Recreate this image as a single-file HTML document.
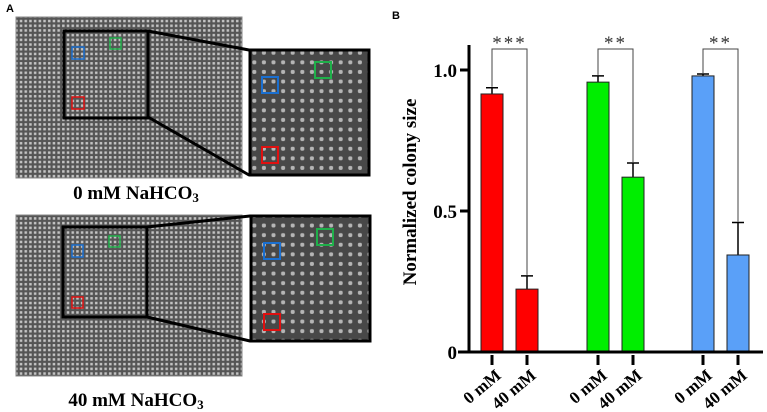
<!DOCTYPE html>
<html><head><meta charset="utf-8"><style>
html,body{margin:0;padding:0;background:#fff;width:767px;height:412px;overflow:hidden}
svg text{font-family:"Liberation Serif",serif}
</style></head><body>
<svg id="fig" width="767" height="412" viewBox="0 0 767 412" xmlns="http://www.w3.org/2000/svg">
<defs>
<pattern id="dots" width="4.7" height="4.7" patternUnits="userSpaceOnUse"><rect width="4.7" height="4.7" fill="#555"/><rect x="1" y="1" width="2.5" height="2.5" fill="#c4c4c4"/></pattern>
<pattern id="dotsBig" width="9.6" height="9.6" patternUnits="userSpaceOnUse"><rect width="9.6" height="9.6" fill="#484848"/><rect x="2.7" y="2.7" width="4" height="4" rx="1.5" fill="#b5b5b5"/></pattern>
</defs>
<text x="6" y="12" font-weight="bold" font-size="11" style="font-family:'Liberation Sans',sans-serif">A</text>
<text x="392" y="19" font-weight="bold" font-size="11" style="font-family:'Liberation Sans',sans-serif">B</text>

<g>
<rect x="16" y="17" width="226" height="161" fill="url(#dots)" stroke="#888" stroke-width="1"/>
<line x1="148" y1="31" x2="249" y2="50" stroke="#000" stroke-width="3"/>
<line x1="148" y1="117" x2="249" y2="175" stroke="#000" stroke-width="3"/>
<rect x="64" y="31" width="84" height="87" fill="none" stroke="#000" stroke-width="3"/>
<rect x="72" y="47" width="12" height="12" fill="none" stroke="#1a6fd0" stroke-width="1.5"/>
<rect x="110" y="38" width="11" height="11" fill="none" stroke="#1fb04a" stroke-width="1.5"/>
<rect x="72" y="97" width="12" height="12" fill="none" stroke="#e01010" stroke-width="1.5"/>
<rect x="250" y="50" width="119" height="125" fill="url(#dotsBig)" stroke="#000" stroke-width="3"/>
<rect x="262" y="77" width="16" height="16" fill="none" stroke="#1a6fd0" stroke-width="2"/>
<rect x="315" y="62" width="16" height="16" fill="none" stroke="#1fb04a" stroke-width="2"/>
<rect x="262" y="147" width="16" height="16" fill="none" stroke="#e01010" stroke-width="2"/>
</g>
<text x="136" y="199" text-anchor="middle" font-weight="bold" font-size="19">0 mM NaHCO<tspan font-size="13" dy="3">3</tspan></text>

<g>
<rect x="16" y="215" width="226" height="161" fill="url(#dots)" stroke="#888" stroke-width="1"/>
<line x1="147" y1="227" x2="250" y2="216" stroke="#000" stroke-width="3"/>
<line x1="147" y1="317" x2="250" y2="341" stroke="#000" stroke-width="3"/>
<rect x="63" y="227" width="84" height="90" fill="none" stroke="#000" stroke-width="3"/>
<rect x="72" y="245" width="11" height="12" fill="none" stroke="#1a6fd0" stroke-width="1.5"/>
<rect x="109" y="236" width="11" height="11" fill="none" stroke="#1fb04a" stroke-width="1.5"/>
<rect x="72" y="297" width="11" height="11" fill="none" stroke="#e01010" stroke-width="1.5"/>
<rect x="251" y="216" width="119" height="125" fill="url(#dotsBig)" stroke="#000" stroke-width="3"/>
<rect x="264" y="243" width="16" height="16" fill="none" stroke="#1a6fd0" stroke-width="2"/>
<rect x="317" y="229" width="16" height="16" fill="none" stroke="#1fb04a" stroke-width="2"/>
<rect x="264" y="314" width="16" height="16" fill="none" stroke="#e01010" stroke-width="2"/>
</g>
<text x="136" y="406" text-anchor="middle" font-weight="bold" font-size="19">40 mM NaHCO<tspan font-size="13" dy="3">3</tspan></text>

<g id="chart"></g>
</svg>
<script>
const categories = ["0 mM","40 mM","0 mM","40 mM","0 mM","40 mM"];
const values = [0.915, 0.223, 0.957, 0.62, 0.979, 0.344];
const errors = [0.022, 0.047, 0.022, 0.05, 0.007, 0.115];
const colors = ["#ff0000","#ff0000","#00ee00","#00ee00","#5aa0f8","#5aa0f8"];
const yTicks = [0, 0.5, 1.0];
const yTickLabels = ["0","0.5","1.0"];
const sigLabels = ["***","**","**"];

const NS = "http://www.w3.org/2000/svg";
const g = document.getElementById("chart");
const y0 = 352, yScale = 282;
function Y(v){ return y0 - v*yScale; }
const barW = 22;
const centers = [492, 527, 598, 633, 703, 738];
function X(i){ return centers[i]; }
function mk(tag, attrs){ const e=document.createElementNS(NS,tag); for(const k in attrs) e.setAttribute(k,attrs[k]); g.appendChild(e); return e; }

let yl = mk("text",{x:0,y:0,"text-anchor":"middle","font-size":"19","font-weight":"bold",transform:"translate(416,192) rotate(-90)"});
yl.textContent = "Normalized colony size";



values.forEach((v,i)=>{
  const x=X(i);
  const top = Y(v+errors[i]);
  let eb = mk("path",{d:`M${x} ${Y(v)}V${top}M${x-6} ${top}H${x+6}`,stroke:"#000","stroke-width":"1.5",fill:"none"});
  
  
  let r = mk("rect",{x:x-barW/2,y:Y(v),width:barW,height:y0-Y(v),fill:colors[i],stroke:"#222","stroke-width":"1"});
  
  
  let t = mk("line",{x1:x,y1:y0+3,x2:x,y2:y0+13,stroke:"#000","stroke-width":"3"});
  
  
  let lab = mk("text",{x:0,y:0,"text-anchor":"end","font-size":"17","font-weight":"bold",transform:`translate(${x+10},${y0+25}) rotate(-40)`});
  lab.textContent = categories[i];
  
  
});

sigLabels.forEach((s,k)=>{
  const a=X(2*k), b=X(2*k+1);
  const ya = Y(values[2*k]+errors[2*k]), yb = Y(values[2*k+1]+errors[2*k+1]);
  let br = mk("path",{d:`M${a} ${ya-1}V49H${b}V${yb-1}`,stroke:"#444","stroke-width":"1",fill:"none"});
  
  
  let st = mk("text",{x:(a+b)/2,y:49,"text-anchor":"middle","font-size":"19",fill:"#333","letter-spacing":"2"});
  st.textContent = s;
  
  
});

let ya = mk("line",{x1:469,y1:45,x2:469,y2:y0+1,stroke:"#000","stroke-width":"3"});


let xa = mk("line",{x1:458,y1:y0,x2:763,y2:y0,stroke:"#000","stroke-width":"3"});


yTicks.forEach((v,i)=>{
  let tk = mk("line",{x1:460,y1:Y(v),x2:469,y2:Y(v),stroke:"#000","stroke-width":"3"});
  
  
  let tl = mk("text",{x:457,y:Y(v)+7,"text-anchor":"end","font-size":"19","font-weight":"bold"});
  tl.textContent = yTickLabels[i];
  
  
});
</script>
</body></html>
